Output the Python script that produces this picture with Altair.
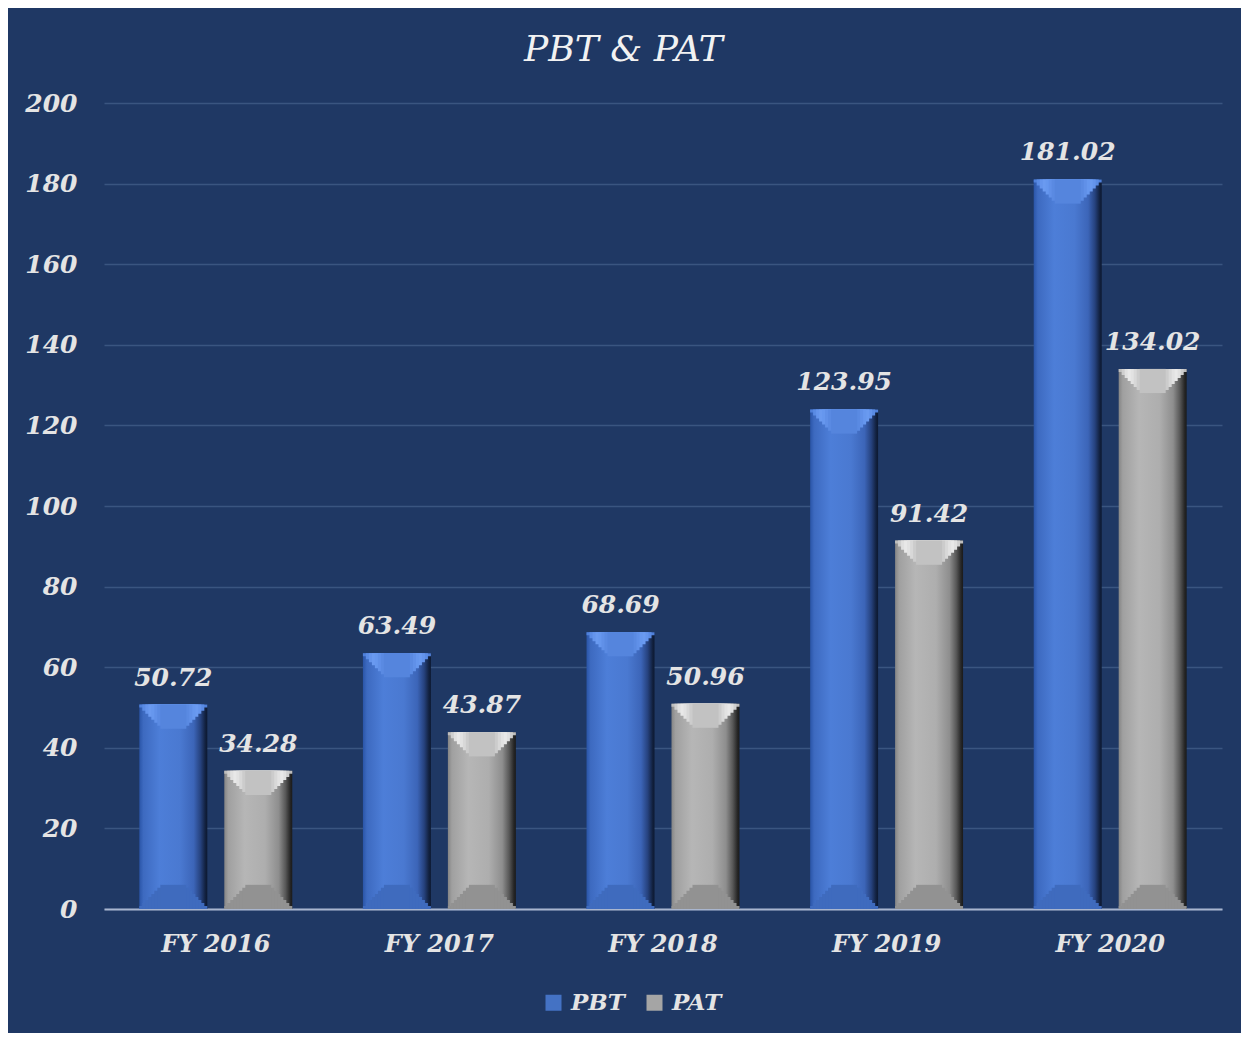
import altair as alt
import pandas as pd

years = ["FY 2016", "FY 2017", "FY 2018", "FY 2019", "FY 2020"]
series = ["PBT", "PAT"]
pbt = [50.72, 63.49, 68.69, 123.95, 181.02]
pat = [34.28, 43.87, 50.96, 91.42, 134.02]
y_ticks = [0, 20, 40, 60, 80, 100, 120, 140, 160, 180, 200]

rows = []
for i, yr in enumerate(years):
    rows.append({"year": yr, "series": "PBT", "value": pbt[i]})
    rows.append({"year": yr, "series": "PAT", "value": pat[i]})
df = pd.DataFrame(rows)

FONT = "DejaVu Serif"
BG = "#1F3864"
TXT = "#E4E4E4"


def hgrad(stops):
    return alt.LinearGradient(
        gradient="linear", x1=0, x2=1, y1=0, y2=0,
        stops=[alt.GradientStop(offset=o, color=c) for o, c in stops])


pbt_body = hgrad([(0, "#2A55A8"), (0.06, "#3D6AC0"), (0.3, "#4D7ED8"),
                  (0.6, "#4A79D1"), (0.8, "#3C65B8"), (0.9, "#26427E"),
                  (0.97, "#12213F"), (1, "#0C1830")])
pat_body = hgrad([(0, "#858585"), (0.06, "#A0A0A0"), (0.3, "#B6B6B6"),
                  (0.6, "#AEAEAE"), (0.8, "#8E8E8E"), (0.9, "#585858"),
                  (0.97, "#262626"), (1, "#1A1A1A")])

x_enc = alt.X("year:N", sort=years,
              scale=alt.Scale(domain=years, paddingInner=0.24, paddingOuter=0.12),
              axis=alt.Axis(title=None))
xo_enc = alt.XOffset("series:N",
                     scale=alt.Scale(domain=series, paddingInner=0.2, paddingOuter=0.1))
yscale = alt.Scale(domain=[0, 200], nice=False)


def yenc(field):
    return alt.Y(field, scale=yscale, axis=alt.Axis(title=None, values=y_ticks))


base = alt.Chart(df)

STEP = 0.75  # depth of each bevel step, in value units
WIDTHS = [68, 62, 56, 50, 44, 38, 32, 26]


def bars(name, body, top_colors, bot_color):
    d = base.transform_filter(alt.datum.series == name)
    out = [d.mark_bar(fill=body).encode(x=x_enc, xOffset=xo_enc, y=yenc("value:Q"),
                                         y2=alt.Y2(datum=0))]
    n = len(WIDTHS)
    # top bevel face (stepped trapezoid)
    for k, w in enumerate(WIDTHS):
        depth = STEP * (k + 1)
        out.append(d.transform_calculate(lo=f"datum.value - {depth}")
                   .mark_bar(fill=top_colors[k], width=w)
                   .encode(x=x_enc, xOffset=xo_enc, y=yenc("lo:Q"), y2="value:Q"))
    # bottom bevel face
    for k, w in enumerate(WIDTHS):
        depth = STEP * (k + 1)
        out.append(d.transform_calculate(hi=f"{depth}")
                   .mark_bar(fill=bot_color, width=w)
                   .encode(x=x_enc, xOffset=xo_enc, y=yenc("hi:Q"), y2=alt.Y2(datum=0)))
    return out


pbt_top = ["#4F80DA", "#5A8BE4", "#6494EC", "#6A9AF0", "#6697EE", "#6090E8", "#5A8AE2", "#5585DD"]
pat_top = ["#BEBEBE", "#CFCFCF", "#E0E0E0", "#E8E8E8", "#E2E2E2", "#D8D8D8", "#CCCCCC", "#C2C2C2"]

labels = base.mark_text(font=FONT, fontSize=25, fontWeight="bold", fontStyle="italic",
                        color=TXT, baseline="alphabetic", dy=-19).encode(
    x=x_enc, xOffset=xo_enc, y=yenc("value:Q"), text=alt.Text("value:Q", format=".2f"))

legend_carrier = base.mark_square(opacity=0).encode(
    x=x_enc, xOffset=xo_enc, y=yenc("value:Q"),
    color=alt.Color("series:N", scale=alt.Scale(domain=series, range=["#4472C4", "#A5A5A5"]),
                    legend=alt.Legend(title=None, orient="none", legendX=438, legendY=888,
                                      direction="horizontal", symbolType="square",
                                      symbolSize=256, symbolOpacity=1, symbolStrokeWidth=0,
                                      labelFont=FONT, labelFontSize=23, labelFontWeight="bold",
                                      labelFontStyle="italic", labelColor=TXT,
                                      columnPadding=18, labelOffset=6, padding=0)))

layers = (bars("PBT", pbt_body, pbt_top, "#3F6BBE")
          + bars("PAT", pat_body, pat_top, "#929292")
          + [labels, legend_carrier])

chart = alt.layer(*layers).properties(
    width=1118, height=806,
    title=alt.TitleParams("PBT & PAT", font=FONT, fontSize=36, fontStyle="italic",
                          fontWeight="normal", color="#F2F2F2", anchor="middle",
                          frame="bounds", offset=22),
    autosize=alt.AutoSizeParams(type="none"),
    padding={"left": 96, "top": 95, "right": 19, "bottom": 124},
    background=BG,
).configure_view(stroke=None).configure_axis(
    labelFont=FONT, labelFontWeight="bold", labelFontStyle="italic",
    labelColor=TXT, ticks=False,
).configure_axisY(
    grid=True, gridColor="#3A5580", gridWidth=1.5, domain=False, labelPadding=27,
    labelFontSize=25,
).configure_axisX(
    grid=False, domainColor="#A9B6CF", domainWidth=2, labelAngle=0, labelPadding=23,
    labelFontSize=24,
)

chart.save("out.html", embed_options={"renderer": "svg", "actions": False})
